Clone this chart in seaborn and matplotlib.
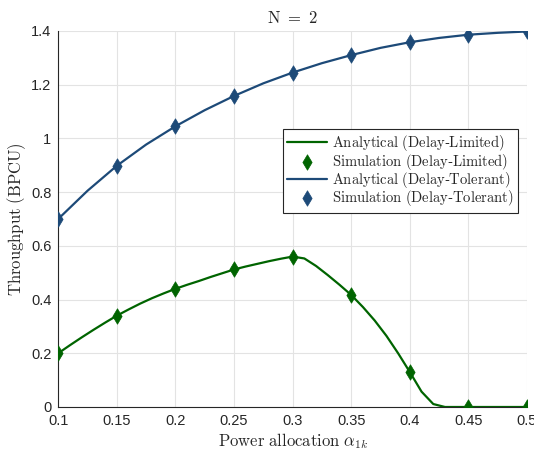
import numpy as np
import pandas as pd
import matplotlib
matplotlib.use("Agg")
import matplotlib.pyplot as plt
import seaborn as sns

# Simulation points
sim_alpha = [0.10, 0.15, 0.20, 0.25, 0.30, 0.35, 0.40, 0.45, 0.50]
sim_limited = [0.200, 0.340, 0.440, 0.512, 0.560, 0.417, 0.130, 0.000, 0.000]
sim_tolerant = [0.700, 0.898, 1.045, 1.158, 1.245, 1.310, 1.358, 1.386, 1.398]

# Analytical curves
ana_alpha_lim = [0.10, 0.11, 0.12, 0.13, 0.14, 0.15, 0.16, 0.17, 0.18, 0.19, 0.20,
                 0.21, 0.22, 0.23, 0.24, 0.25, 0.26, 0.27, 0.28, 0.29, 0.30,
                 0.31, 0.32, 0.33, 0.34, 0.35, 0.36, 0.37, 0.38, 0.39, 0.40,
                 0.41, 0.42, 0.43, 0.44, 0.45, 0.46, 0.47, 0.48, 0.49, 0.50]
ana_limited = [0.200, 0.230, 0.259, 0.287, 0.314, 0.340, 0.363, 0.385, 0.405, 0.423, 0.440,
               0.455, 0.469, 0.484, 0.498, 0.512, 0.523, 0.533, 0.543, 0.552, 0.560,
               0.553, 0.525, 0.491, 0.455, 0.417, 0.372, 0.322, 0.265, 0.200, 0.130,
               0.057, 0.011, 0.000, 0.000, 0.000, 0.000, 0.000, 0.000, 0.000, 0.000]
ana_alpha_tol = [0.100, 0.125, 0.150, 0.175, 0.200, 0.225, 0.250, 0.275, 0.300,
                 0.325, 0.350, 0.375, 0.400, 0.425, 0.450, 0.475, 0.500]
ana_tolerant = [0.700, 0.805, 0.898, 0.977, 1.045, 1.105, 1.158, 1.205, 1.245,
                1.280, 1.310, 1.337, 1.358, 1.374, 1.386, 1.393, 1.398]

xticks = [0.1, 0.15, 0.2, 0.25, 0.3, 0.35, 0.4, 0.45, 0.5]
xticklabels = ["0.1", "0.15", "0.2", "0.25", "0.3", "0.35", "0.4", "0.45", "0.5"]
yticks = [0, 0.2, 0.4, 0.6, 0.8, 1.0, 1.2, 1.4]
yticklabels = ["0", "0.2", "0.4", "0.6", "0.8", "1", "1.2", "1.4"]

green = "#006400"
blue = "#1d4a78"

sns.set_style("white")
plt.rcParams["font.family"] = ["Liberation Sans", "DejaVu Sans"]
plt.rcParams["mathtext.fontset"] = "cm"

fig = plt.figure(figsize=(5.34, 4.55), dpi=100)
ax = fig.add_axes([0.109, 0.1055, 0.878, 0.8265])

df_al = pd.DataFrame({"alpha": ana_alpha_lim, "thr": ana_limited})
df_at = pd.DataFrame({"alpha": ana_alpha_tol, "thr": ana_tolerant})
df_s = pd.DataFrame({"alpha": sim_alpha, "lim": sim_limited, "tol": sim_tolerant})

sns.lineplot(data=df_al, x="alpha", y="thr", ax=ax, color=green, linewidth=1.6,
             label=r"$\mathrm{Analytical\ (Delay}$-$\mathrm{Limited)}$", sort=False)
sns.scatterplot(data=df_s, x="alpha", y="lim", ax=ax, color=green, marker="d", s=62,
                edgecolor=green, linewidth=0.5, zorder=5,
                label=r"$\mathrm{Simulation\ (Delay}$-$\mathrm{Limited)}$")
sns.lineplot(data=df_at, x="alpha", y="thr", ax=ax, color=blue, linewidth=1.6,
             label=r"$\mathrm{Analytical\ (Delay}$-$\mathrm{Tolerant)}$", sort=False)
sns.scatterplot(data=df_s, x="alpha", y="tol", ax=ax, color=blue, marker="d", s=62,
                edgecolor=blue, linewidth=0.5, zorder=5,
                label=r"$\mathrm{Simulation\ (Delay}$-$\mathrm{Tolerant)}$")

ax.set_xlim(0.1, 0.5)
ax.set_ylim(0, 1.4)
ax.set_xticks(xticks)
ax.set_xticklabels(xticklabels)
ax.set_yticks(yticks)
ax.set_yticklabels(yticklabels)
ax.tick_params(direction="in", length=4, width=0.8, colors="#262626", labelsize=10.5, pad=5)
for lbl in ax.get_xticklabels() + ax.get_yticklabels():
    lbl.set_color("#262626")

ax.grid(True, color="#e3e3e3", linewidth=0.8)
ax.set_axisbelow(True)
for s in ["top", "right"]:
    ax.spines[s].set_visible(False)
for s in ["left", "bottom"]:
    ax.spines[s].set_color("#262626")
    ax.spines[s].set_linewidth(0.8)

ax.set_xlabel(r"$\mathrm{Power\ allocation}\ \alpha_{1k}$", fontsize=12, color="#262626", labelpad=2)
ax.set_ylabel(r"$\mathrm{Throughput\ (BPCU)}$", fontsize=12, color="#262626", labelpad=2)
ax.set_title(r"$\mathrm{N}\ =\ 2$", fontsize=12, color="#262626", pad=6)

leg = ax.legend(loc="center right", bbox_to_anchor=(0.98, 0.628), fontsize=10.5,
                frameon=True, fancybox=False, edgecolor="#262626", framealpha=1,
                handlelength=2.7, handletextpad=0.35, borderpad=0.3, labelspacing=-0.12,
                borderaxespad=0.0)
leg.get_frame().set_linewidth(0.8)

fig.savefig("out.png", dpi=100)
